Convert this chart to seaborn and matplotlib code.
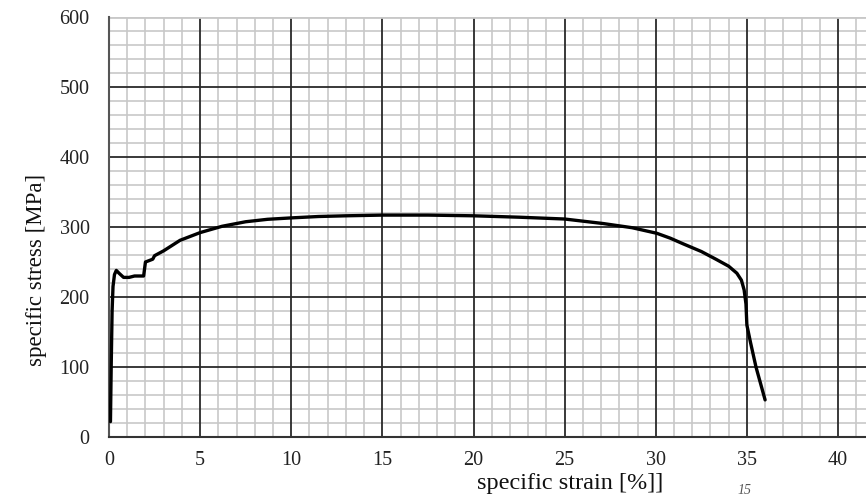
import matplotlib
matplotlib.use("Agg")
import matplotlib.pyplot as plt
import seaborn as sns
import numpy as np
import pandas as pd

strain = [0.08, 0.12, 0.17, 0.22, 0.3, 0.4, 0.55, 0.8, 1.1, 1.4, 1.9, 2.0, 2.2, 2.4,
          2.5, 3.0, 3.9, 5.0, 6.2, 7.5, 8.7, 10.0, 11.5, 13.0, 15.0, 17.5, 20.0,
          22.5, 25.0, 27.1, 28.7, 30.06, 30.8, 31.5, 32.5, 33.3, 34.0, 34.45, 34.7,
          34.85, 34.95, 35.0, 35.2, 35.5, 36.0]
stress = [22, 100, 180, 215, 232, 238, 234, 228, 228, 230, 230, 250, 252, 254,
          259, 266, 281, 292, 301, 307.5, 311, 313, 315, 316, 317, 317, 316,
          314, 311.4, 305, 299, 291, 284, 276, 265, 254, 244, 234, 224,
          210, 190, 160, 135, 100, 53]

x_ticks = [0, 5, 10, 15, 20, 25, 30, 35, 40]
y_ticks = [0, 100, 200, 300, 400, 500, 600]

df = pd.DataFrame({"strain": strain, "stress": stress})

sns.set_style("white")
plt.rcParams['font.family'] = ['Liberation Serif', 'DejaVu Serif']

fig = plt.figure(figsize=(8.66, 4.98), dpi=100)
W, H = 866, 498
x0, x1 = 109, 866
y0, y1 = 437, 17
ax = fig.add_axes([x0 / W, 1 - y0 / H, (x1 - x0) / W, (y0 - y1) / H])

xmax = (x1 - x0) / ((838 - 109) / 40)
ax.set_xlim(0, xmax)
ax.set_ylim(0, 600)

minor_col = "#c8c8c8"
major_col = "#2a2a2a"
for v in np.arange(1, xmax, 1):
    if v % 5:
        ax.axvline(v, color=minor_col, lw=1.2, zorder=0)
for v in np.arange(20, 600, 20):
    if v % 100:
        ax.axhline(v, color=minor_col, lw=1.2, zorder=0)
for v in x_ticks[1:]:
    ax.axvline(v, color=major_col, lw=1.3, zorder=1)
for v in y_ticks[1:-1]:
    ax.axhline(v, color=major_col, lw=1.3, zorder=1)
ax.axhline(600, color=minor_col, lw=2.0, zorder=1)

sns.lineplot(data=df, x="strain", y="stress", ax=ax, color="black", lw=2.4,
             sort=False, zorder=3)

ax.set_xticks(x_ticks)
ax.set_yticks(y_ticks)
ax.tick_params(axis="both", length=0, labelsize=14.5, colors="#222222")
ax.tick_params(axis="x", pad=10)
ax.tick_params(axis="y", pad=14)

for s in ["top", "right"]:
    ax.spines[s].set_visible(False)
ax.spines["left"].set_color("#555555")
ax.spines["left"].set_linewidth(1.5)
ax.spines["bottom"].set_color("#333333")
ax.spines["bottom"].set_linewidth(1.5)

ax.set_xlabel("specific strain [%]]", fontsize=17.5, color="#111111")
ax.set_ylabel("specific stress [MPa]", fontsize=16.5, color="#111111")
ax.xaxis.set_label_coords((570 - x0) / (x1 - x0), -(483 - y0) / (y0 - y1), transform=ax.transAxes)
ax.yaxis.label.set_verticalalignment("center")
ax.xaxis.label.set_verticalalignment("center")
ax.yaxis.set_label_coords(-(x0 - 37) / (x1 - x0), (y0 - 270) / (y0 - y1), transform=ax.transAxes)

fig.text(745 / W, 1 - 497 / H, "15", fontsize=10, style="italic", color="#555555",
         ha="center", va="bottom")

fig.savefig("out.png", dpi=100)
